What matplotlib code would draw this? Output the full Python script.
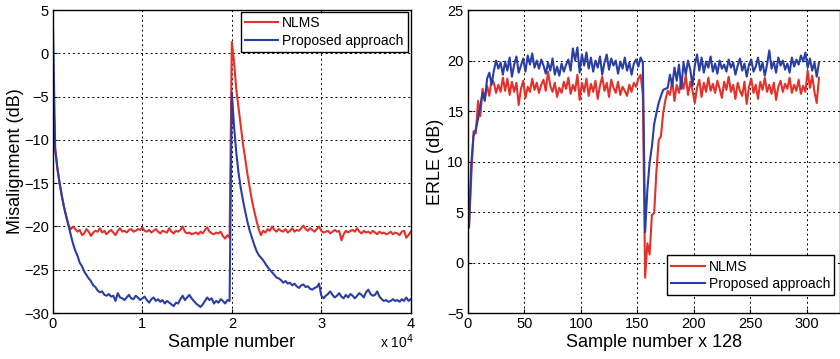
import numpy as np
import matplotlib
matplotlib.use('Agg')
import matplotlib.pyplot as plt

plt.rcParams['font.family'] = ['Liberation Sans', 'DejaVu Sans']

# left panel: misalignment, x in units of 1e4 samples (step 0.025)
mis_x = np.linspace(0, 4, 161)
mis_nlms = [
    -3.3, -11.0, -13.3, -15.0, -16.5, -17.8, -18.9, -19.9,
    -20.3, -20.0, -20.3, -20.6, -20.4, -21.0, -20.8, -20.3,
    -20.6, -21.1, -20.7, -20.5, -20.6, -20.2, -20.7, -20.5,
    -20.9, -20.6, -20.4, -20.7, -21.0, -20.5, -20.2, -20.6,
    -20.5, -20.7, -20.4, -20.3, -20.6, -20.5, -20.3, -20.4,
    -20.1, -20.5, -20.6, -20.4, -20.7, -20.5, -20.3, -20.6,
    -20.8, -20.5, -20.6, -20.7, -20.2, -20.6, -20.8, -20.5,
    -20.6, -20.4, -20.0, -20.6, -20.8, -20.7, -20.9, -20.8,
    -20.7, -20.9, -20.6, -20.8, -20.4, -20.1, -20.6, -20.8,
    -20.9, -20.7, -20.8, -20.6, -21.1, -21.4, -21.0, -21.3,
    1.3, -1.0, -4.2, -6.3, -8.3, -10.5, -12.2, -14.0,
    -15.5, -17.0, -18.2, -19.3, -20.3, -21.0, -20.5, -20.7,
    -20.3, -20.5, -20.0, -20.4, -20.6, -20.3, -20.5, -20.6,
    -20.3, -20.7, -20.5, -20.2, -20.6, -20.4, -20.5, -20.2,
    -19.9, -20.3, -20.5, -20.2, -20.4, -20.6, -20.3, -20.0,
    -20.5, -20.7, -20.6, -20.5, -20.8, -20.6, -20.4, -20.6,
    -20.5, -21.6, -20.9, -20.5, -20.7, -20.5, -20.4, -20.6,
    -20.2, -20.6, -20.8, -20.5, -20.7, -20.6, -20.8, -20.5,
    -20.7, -20.9, -20.6, -20.8, -20.7, -20.9, -20.8, -20.6,
    -20.9, -20.7, -20.8, -21.0, -20.6, -20.5, -21.3, -21.0,
    -20.6,
]
mis_prop = [
    3.5, -11.0, -13.3, -15.0, -16.5, -17.8, -18.9, -19.9,
    -21.0, -22.0, -22.8, -23.4, -24.2, -24.6, -25.2, -25.6,
    -26.0, -26.3, -26.8, -27.0, -27.4, -27.6, -27.5, -27.9,
    -28.0, -27.8, -28.1, -28.0, -28.6, -27.7, -28.2, -28.3,
    -28.5, -28.2, -27.9, -28.3, -28.4, -28.0, -28.2, -28.5,
    -28.3, -28.1, -28.5, -28.8, -28.4, -28.2, -28.6, -28.4,
    -28.7, -28.5, -28.9, -28.6, -28.8, -29.0, -29.2, -28.8,
    -28.9, -28.4, -28.0, -28.5, -28.2, -27.9, -28.3, -28.6,
    -28.9, -29.1, -29.3, -29.0, -28.6, -28.2, -28.5, -28.3,
    -28.9, -28.6, -28.8, -28.4, -28.6, -28.9, -28.5, -28.6,
    -4.5, -8.5, -11.5, -13.8, -15.6, -17.0, -18.3, -19.5,
    -20.5, -21.3, -22.1, -22.8, -23.3, -23.6, -23.9, -24.3,
    -24.7, -25.0, -25.3, -25.6, -25.9, -26.0, -26.2, -26.5,
    -26.3, -26.6, -26.5, -26.8, -26.6, -26.9, -27.1, -26.8,
    -26.7, -27.0, -26.9, -27.2, -27.3, -27.1, -27.0, -26.6,
    -28.0, -28.3, -28.0, -27.8, -27.5, -27.9, -28.2, -28.0,
    -27.7, -28.1, -28.3, -27.9, -28.2, -27.8, -28.0, -28.3,
    -28.0, -27.7, -27.9, -28.2, -27.6, -27.3, -27.8, -28.0,
    -27.9, -27.5, -28.1, -28.4, -28.6, -28.5, -28.7, -28.6,
    -28.4, -28.6, -28.5, -28.7, -28.4, -28.6, -28.2, -28.6,
    -28.4,
]

# right panel: ERLE per block of 128 samples (every 2nd block)
erle_x = np.arange(1, 312, 2)
erle_nlms = [
    3.5, 8.5, 13.0, 12.8, 16.0, 14.5, 17.2, 16.3, 17.5, 16.5,
    18.2, 17.8, 16.8, 17.6, 16.9, 18.3, 17.0, 18.2, 16.6, 17.9,
    16.9, 17.8, 15.6, 17.2, 18.0, 16.3, 17.4, 16.9, 18.2, 17.1,
    17.8, 16.8, 17.6, 18.1, 17.0, 18.9, 17.5, 16.9, 17.8, 16.4,
    17.3, 16.8, 17.9, 17.2, 18.3, 16.7, 17.6, 17.0, 18.6, 16.1,
    17.8, 16.9, 18.2, 16.5, 17.7, 16.9, 18.0, 16.2, 17.5, 18.4,
    17.0, 17.8, 16.4, 18.1, 17.3, 16.8, 17.9, 16.6, 17.4, 17.0,
    16.5, 17.6, 16.9, 17.8, 17.4, 18.2, 18.6, 16.6, -1.5, 1.9,
    0.8, 4.7, 4.9, 9.0, 12.1, 12.5, 14.8, 16.1, 17.0, 16.6,
    18.0, 16.0, 17.6, 16.8, 18.1, 17.2, 18.5, 16.6, 17.9, 17.0,
    15.8, 17.3, 18.1, 16.4, 17.8, 16.9, 18.3, 17.0, 17.7, 16.8,
    18.0, 17.2, 16.3, 17.9, 17.1, 18.4, 16.9, 17.6, 16.2, 17.8,
    17.0, 16.5, 17.9, 15.7, 17.4, 18.2, 16.8, 17.6, 16.2, 17.9,
    17.1, 18.3, 16.9, 17.6, 16.7, 17.8, 16.1, 17.4, 18.0, 16.9,
    17.7, 17.2, 18.3, 16.8, 17.6, 17.0, 18.1, 16.7, 17.5, 16.9,
    19.0, 17.3, 18.5, 16.9, 15.8, 18.3,
]
erle_prop = [
    3.5, 9.8, 12.5, 13.2, 14.2, 15.5, 16.8, 16.0, 18.2, 18.8,
    17.6, 19.0, 20.0, 19.2, 19.8, 18.6, 19.9, 19.0, 20.3, 18.4,
    19.6, 20.4, 18.8, 19.5, 20.2, 18.9, 20.5, 19.6, 20.7, 19.3,
    20.0, 19.2, 20.1, 19.5, 18.7, 19.8, 19.0, 20.2, 18.6, 19.4,
    18.5, 19.7, 18.9, 19.6, 20.1, 19.0, 21.2, 20.0, 21.3, 18.8,
    20.6, 19.5, 20.8, 19.2, 20.3, 18.9, 20.0, 19.3, 20.4, 18.6,
    19.8, 20.6, 19.1, 20.2, 19.5, 20.0, 18.7, 19.9, 19.2, 20.3,
    19.0, 19.8, 18.6, 19.7, 20.1, 19.4, 20.3, 19.8, 3.0, 7.2,
    9.9, 11.5, 13.7, 14.8, 15.8, 16.5, 17.1, 17.2, 17.3, 18.6,
    17.5, 19.3, 18.0, 19.6, 17.2, 19.8, 18.6, 20.0, 19.1, 17.5,
    19.5, 20.6, 19.0, 20.3, 18.8, 19.9, 19.3, 20.4, 18.9, 19.7,
    18.7, 20.0, 19.2, 19.6, 18.9, 20.1, 19.3, 19.8, 18.6, 19.5,
    20.2, 19.0, 19.7, 18.4, 19.6, 20.1, 18.9, 19.4, 20.3, 19.0,
    19.8, 18.5, 19.6, 21.0, 19.2, 19.9, 18.8, 20.3, 19.5, 20.0,
    19.1, 19.7, 18.8, 20.3, 19.4, 20.1, 19.6, 20.5, 19.9, 20.8,
    19.3, 20.2, 19.0, 19.8, 18.4, 19.8,
]

red = '#e3312b'
blue = '#2b3ea3'
labels = ['NLMS', 'Proposed approach']

fig = plt.figure(figsize=(8.4, 3.59), dpi=100)
ax1 = fig.add_axes([0.063, 0.128, 0.426, 0.844])
ax2 = fig.add_axes([0.557, 0.128, 0.4435, 0.844])

ax1.plot(mis_x, mis_nlms, color=red, lw=1.5, label=labels[0])
ax1.plot(mis_x, mis_prop, color=blue, lw=1.5, label=labels[1])
ax1.set_xlim(0, 4)
ax1.set_ylim(-30, 5)
ax1.set_xticks(range(0, 5))
ax1.set_yticks(range(-30, 6, 5))
ax1.set_xlabel('Sample number', fontsize=13, labelpad=2)
ax1.set_ylabel('Misalignment (dB)', fontsize=13, labelpad=0)
ax1.legend(loc='upper right', bbox_to_anchor=(0.992, 0.993), fontsize=10,
           fancybox=False, edgecolor='black', framealpha=1, borderpad=0.3,
           handlelength=2.4, handletextpad=0.3, labelspacing=0.25,
           borderaxespad=0)
fig.text(0.452, 0.03, r'x 10$^4$', fontsize=10, ha='left')

ax2.plot(erle_x, erle_nlms, color=red, lw=1.5, label=labels[0])
ax2.plot(erle_x, erle_prop, color=blue, lw=1.5, label=labels[1])
ax2.set_xlim(0, 330)
ax2.set_ylim(-5, 25)
ax2.set_xticks(range(0, 301, 50))
ax2.set_yticks(range(-5, 26, 5))
ax2.set_xlabel('Sample number x 128', fontsize=13, labelpad=2)
ax2.set_ylabel('ERLE (dB)', fontsize=13, labelpad=2)
ax2.legend(loc='lower right', bbox_to_anchor=(0.984, 0.059), fontsize=10,
           fancybox=False, edgecolor='black', framealpha=1, borderpad=0.3,
           handlelength=2.4, handletextpad=0.3, labelspacing=0.25,
           borderaxespad=0)

for ax in (ax1, ax2):
    ax.grid(True, color='black', linestyle=(0, (2, 3)), linewidth=0.7)
    ax.tick_params(direction='in', length=3, labelsize=10.5, pad=3)
    for sp in ax.spines.values():
        sp.set_linewidth(1.0)
    ax.legend_.get_frame().set_linewidth(1.0)

fig.savefig('out.png', dpi=100)
